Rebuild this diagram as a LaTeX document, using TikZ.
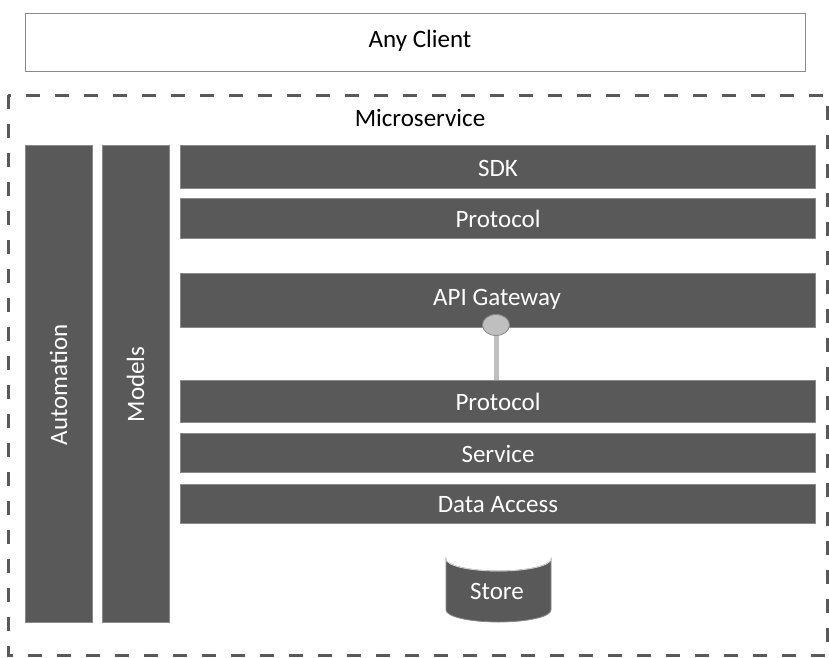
\documentclass[tikz,border=0pt]{standalone}
\usepackage{fontspec}
\setmainfont{Carlito}
\usetikzlibrary{shapes.geometric}
\definecolor{bar}{HTML}{595959}
\definecolor{barline}{HTML}{8A8A8A}
\definecolor{knob}{HTML}{BFBFBF}
\begin{document}
\begin{tikzpicture}[x=1pt,y=-1pt,
  layer/.style={draw=barline,line width=0.8pt,fill=bar,inner sep=0pt},
  bartext/.style={text=white,font=\fontsize{25}{30}\selectfont,inner sep=0pt,anchor=center},
  label/.style={font=\fontsize{25}{30}\selectfont,inner sep=0pt}]
\useasboundingbox (0,0) rectangle (829,657);
% client box
\node[draw=barline,line width=0.8pt,minimum width=780pt,minimum height=58pt,inner sep=0pt] (client) at (415,42) {};
\node[label] (clienttext) at (420,41) {Any Client};
% microservice boundary
\draw[bar,line width=3pt,dash pattern=on 14pt off 15pt] (8,95) rectangle (827,655);
\node[label] (ms) at (420,118) {Microservice};
% vertical bars
\node[layer,minimum width=67pt,minimum height=477pt] (auto) at (58.5,383.5) {};
\node[bartext,rotate=90] at (58.5,385) {Automation};
\node[layer,minimum width=67pt,minimum height=477pt] (models) at (135.5,383.5) {};
\node[bartext,rotate=90] at (135.5,384.5) {Models};
% horizontal layers
\node[layer,minimum width=635pt,minimum height=43pt] (sdk) at (497.5,166.5) {};
\node[bartext] at (498,168) {SDK};
\node[layer,minimum width=635pt,minimum height=40pt] (proto1) at (497.5,218) {};
\node[bartext] at (498,219) {Protocol};
\node[layer,minimum width=635pt,minimum height=54pt] (gw) at (497.5,300) {};
\node[bartext] at (497,299.5) {API Gateway};
\node[layer,minimum width=635pt,minimum height=42pt] (proto2) at (497.5,401) {};
\node[bartext] at (498,402) {Protocol};
\node[layer,minimum width=635pt,minimum height=39pt] (svc) at (497.5,452.5) {};
\node[bartext] at (498,454) {Service};
\node[layer,minimum width=635pt,minimum height=39pt] (dal) at (497.5,503.5) {};
\node[bartext] at (498,505) {Data Access};
% connector between gateway and protocol
\node[draw=barline,fill=knob,ellipse,minimum width=27pt,minimum height=21pt,inner sep=0pt,line width=0.8pt] (knob) at (496,325) {};
\draw[knob,line width=5pt] (knob.south) -- (knob.south |- proto2.north);
% store cylinder
\coordinate (storetop) at (498.5,559);
\coordinate (storebot) at (498.5,610);
\filldraw[fill=bar,draw=barline,line width=0.8pt]
  ([xshift=-52.5pt]storetop) -- ([xshift=-52.5pt]storebot)
  arc[start angle=180,end angle=0,x radius=52.5pt,y radius=-12pt]
  -- ([xshift=52.5pt]storetop)
  arc[start angle=0,end angle=180,x radius=52.5pt,y radius=-12pt] -- cycle;
\draw[white!75!bar,line width=0.8pt] ([xshift=-52.5pt]storetop)
  arc[start angle=180,end angle=0,x radius=52.5pt,y radius=-12pt];
\node[bartext] (store) at (497,591) {Store};
\end{tikzpicture}
\end{document}
